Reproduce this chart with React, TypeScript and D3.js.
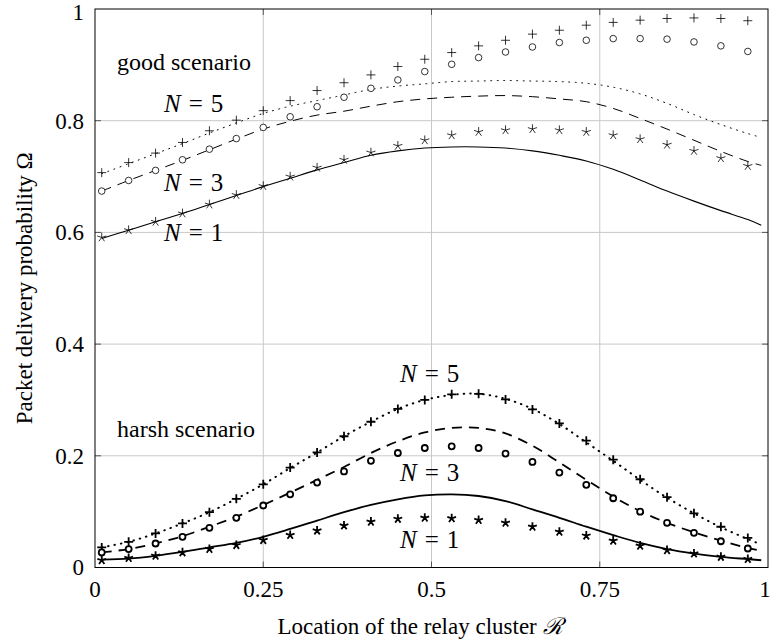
import React from 'react';
import * as d3 from 'd3';

// x positions of the simulation markers and of the analytic curves
const xMarks = [0.01, 0.05, 0.09, 0.13, 0.17, 0.21, 0.25, 0.29, 0.33, 0.37, 0.41, 0.45, 0.49, 0.53, 0.57, 0.61, 0.65, 0.69, 0.73, 0.77, 0.81, 0.85, 0.89, 0.93, 0.97];
const xLine = [0.01, 0.05, 0.09, 0.13, 0.17, 0.21, 0.25, 0.29, 0.33, 0.37, 0.41, 0.45, 0.49, 0.53, 0.57, 0.61, 0.65, 0.69, 0.73, 0.77, 0.81, 0.85, 0.89, 0.93, 0.97, 0.99];

// good scenario: simulation markers
const goodN5Sim = [0.707, 0.725, 0.742, 0.761, 0.782, 0.801, 0.818, 0.836, 0.854, 0.868, 0.882, 0.897, 0.910, 0.922, 0.934, 0.944, 0.955, 0.962, 0.971, 0.976, 0.980, 0.983, 0.984, 0.983, 0.979];
const goodN3Sim = [0.674, 0.693, 0.711, 0.730, 0.749, 0.768, 0.788, 0.807, 0.825, 0.842, 0.858, 0.873, 0.888, 0.901, 0.913, 0.923, 0.932, 0.940, 0.944, 0.947, 0.947, 0.946, 0.941, 0.934, 0.924];
const goodN1Sim = [0.591, 0.604, 0.619, 0.634, 0.650, 0.667, 0.683, 0.700, 0.716, 0.730, 0.743, 0.755, 0.765, 0.774, 0.780, 0.783, 0.785, 0.783, 0.780, 0.774, 0.767, 0.757, 0.746, 0.733, 0.719];
// good scenario: analytic curves
const goodN5Ana = [0.705, 0.723, 0.741, 0.759, 0.778, 0.796, 0.813, 0.826, 0.836, 0.846, 0.856, 0.862, 0.866, 0.870, 0.871, 0.872, 0.871, 0.870, 0.867, 0.860, 0.848, 0.831, 0.811, 0.793, 0.777, 0.770];
const goodN3Ana = [0.674, 0.693, 0.711, 0.729, 0.748, 0.767, 0.785, 0.799, 0.810, 0.817, 0.826, 0.834, 0.839, 0.842, 0.844, 0.845, 0.843, 0.839, 0.834, 0.822, 0.804, 0.785, 0.765, 0.745, 0.727, 0.720];
const goodN1Ana = [0.589, 0.604, 0.619, 0.634, 0.650, 0.666, 0.682, 0.697, 0.712, 0.725, 0.738, 0.746, 0.751, 0.753, 0.753, 0.751, 0.746, 0.738, 0.728, 0.713, 0.694, 0.674, 0.656, 0.639, 0.623, 0.613];

// harsh scenario: simulation markers
const harshN5Sim = [0.036, 0.046, 0.061, 0.079, 0.099, 0.123, 0.149, 0.179, 0.206, 0.235, 0.261, 0.284, 0.300, 0.310, 0.311, 0.301, 0.283, 0.258, 0.227, 0.193, 0.158, 0.126, 0.097, 0.073, 0.053];
const harshN3Sim = [0.027, 0.033, 0.043, 0.055, 0.071, 0.089, 0.111, 0.131, 0.152, 0.172, 0.191, 0.205, 0.214, 0.217, 0.214, 0.204, 0.189, 0.170, 0.148, 0.124, 0.100, 0.080, 0.062, 0.047, 0.034];
const harshN1Sim = [0.013, 0.017, 0.021, 0.027, 0.033, 0.040, 0.049, 0.058, 0.066, 0.075, 0.082, 0.087, 0.089, 0.088, 0.085, 0.080, 0.073, 0.064, 0.057, 0.048, 0.039, 0.031, 0.025, 0.019, 0.015];
// harsh scenario: analytic curves
const harshN5Ana = [0.036, 0.046, 0.061, 0.079, 0.099, 0.123, 0.149, 0.178, 0.206, 0.235, 0.261, 0.284, 0.300, 0.309, 0.311, 0.302, 0.284, 0.257, 0.224, 0.191, 0.157, 0.125, 0.097, 0.072, 0.051, 0.041];
const harshN3Ana = [0.027, 0.033, 0.043, 0.056, 0.073, 0.091, 0.112, 0.134, 0.157, 0.180, 0.205, 0.226, 0.242, 0.250, 0.250, 0.240, 0.218, 0.188, 0.157, 0.127, 0.101, 0.080, 0.063, 0.048, 0.035, 0.030];
const harshN1Ana = [0.014, 0.016, 0.021, 0.028, 0.036, 0.044, 0.055, 0.069, 0.084, 0.099, 0.112, 0.122, 0.129, 0.131, 0.128, 0.119, 0.104, 0.089, 0.073, 0.058, 0.044, 0.033, 0.025, 0.019, 0.015, 0.013];

const xTicks = [0, 0.25, 0.5, 0.75, 1];
const xTickLabels = ['0', '0.25', '0.5', '0.75', '1'];
const yTicks = [0, 0.2, 0.4, 0.6, 0.8, 1];
const yTickLabels = ['0', '0.2', '0.4', '0.6', '0.8', '1'];

const W = 772;
const H = 643;
const L = 95, R = 768, T = 9, B = 567.5;
const FONT = "'Liberation Serif', 'Times New Roman', serif";

export default function App() {
  const x = d3.scaleLinear().domain([0, 1]).range([L, R]);
  const y = d3.scaleLinear().domain([0, 1]).range([B, T]);
  const line = d3.line<number>()
    .x((_, i) => x(xLine[i]))
    .y((d) => y(d))
    .curve(d3.curveCatmullRom.alpha(0.5));

  const plus = (cx: number, cy: number, s: number) => `M${cx - s},${cy}h${2 * s}M${cx},${cy - s}v${2 * s}`;
  const star = (cx: number, cy: number, s: number) => {
    let p = '';
    for (let k = 0; k < 5; k++) {
      const a = -Math.PI / 2 + (k * 2 * Math.PI) / 5;
      p += `M${cx},${cy}L${cx + s * Math.cos(a)},${cy + s * Math.sin(a)}`;
    }
    return p;
  };

  const markerSet = (vals: number[], kind: string, bold: boolean, key: string) => (
    <g key={key} stroke="#000" fill="none" strokeWidth={bold ? 1.8 : 0.8}>
      {vals.map((v, i) => {
        const cx = x(xMarks[i]);
        const cy = y(v);
        if (kind === 'plus') return <path key={i} d={plus(cx, cy, 4.5)} />;
        if (kind === 'circle') return <circle key={i} cx={cx} cy={cy} r={bold ? 3 : 3.3} fill="#fff" />;
        return <path key={i} d={star(cx, cy, bold ? 4.6 : 4.8)} />;
      })}
    </g>
  );

  const nLabel = (tx: number, ty: number, n: string, key: string) => (
    <text key={key} x={tx} y={ty} fontFamily={FONT} fontSize={25} fill="#000">
      <tspan fontStyle="italic">N</tspan>
      <tspan dx={8}>=</tspan>
      <tspan dx={8}>{n}</tspan>
    </text>
  );

  return (
    <svg width={W} height={H} style={{ position: 'absolute', left: 0, top: 0, background: '#fff' }}>
      <rect x={0} y={0} width={W} height={H} fill="#fff" />
      {/* grid */}
      <g stroke="#c8c8c8" strokeWidth={1}>
        {xTicks.slice(1, -1).map((t) => (
          <line key={'gx' + t} x1={x(t)} x2={x(t)} y1={T} y2={B} />
        ))}
        {yTicks.slice(1, -1).map((t) => (
          <line key={'gy' + t} x1={L} x2={R} y1={y(t)} y2={y(t)} />
        ))}
      </g>
      {/* inner ticks */}
      <g stroke="#555" strokeWidth={1}>
        {xTicks.slice(1, -1).map((t) => (
          <g key={'tx' + t}>
            <line x1={x(t)} x2={x(t)} y1={B} y2={B - 6} />
            <line x1={x(t)} x2={x(t)} y1={T} y2={T + 6} />
          </g>
        ))}
        {yTicks.slice(1, -1).map((t) => (
          <g key={'ty' + t}>
            <line x1={L} x2={L + 6} y1={y(t)} y2={y(t)} />
            <line x1={R} x2={R - 6} y1={y(t)} y2={y(t)} />
          </g>
        ))}
      </g>

      {/* good scenario curves */}
      <path d={line(goodN5Ana) || ''} fill="none" stroke="#000" strokeWidth={1} strokeDasharray="1 5.5" strokeLinecap="round" />
      <path d={line(goodN3Ana) || ''} fill="none" stroke="#000" strokeWidth={1} strokeDasharray="10 7" />
      <path d={line(goodN1Ana) || ''} fill="none" stroke="#000" strokeWidth={1.1} />

      {/* harsh scenario curves */}
      <path d={line(harshN5Ana) || ''} fill="none" stroke="#000" strokeWidth={2} strokeDasharray="0.5 6" strokeLinecap="round" />
      <path d={line(harshN3Ana) || ''} fill="none" stroke="#000" strokeWidth={1.8} strokeDasharray="10 7" />
      <path d={line(harshN1Ana) || ''} fill="none" stroke="#000" strokeWidth={1.8} />

      {/* markers */}
      {markerSet(goodN5Sim, 'plus', false, 'g5')}
      {markerSet(goodN3Sim, 'circle', false, 'g3')}
      {markerSet(goodN1Sim, 'star', false, 'g1')}
      {markerSet(harshN5Sim, 'plus', true, 'h5')}
      {markerSet(harshN3Sim, 'circle', true, 'h3')}
      {markerSet(harshN1Sim, 'star', true, 'h1')}

      {/* frame */}
      <rect x={L} y={T} width={R - L} height={B - T} fill="none" stroke="#000" strokeWidth={1} />

      {/* tick labels */}
      <g fontFamily={FONT} fontSize={23} fill="#000">
        {xTicks.map((t, i) => (
          <text key={'xl' + t} x={i === xTicks.length - 1 ? x(t) - 3 : x(t)} y={597} textAnchor="middle">{xTickLabels[i]}</text>
        ))}
        {yTicks.map((t, i) => (
          <text key={'yl' + t} x={84} y={i === yTicks.length - 1 ? y(t) + 3 : y(t)} dy="0.34em" textAnchor="end">{yTickLabels[i]}</text>
        ))}
      </g>

      {/* axis titles */}
      <text x={420} y={634} textAnchor="middle" fontFamily={FONT} fontSize={23} fill="#000">
        Location of the relay cluster <tspan fontStyle="italic" fontFamily="'DejaVu Serif', serif">ℛ</tspan>
      </text>
      <text transform={`translate(32,${(T + B) / 2}) rotate(-90)`} textAnchor="middle" fontFamily={FONT} fontSize={23} fill="#000">
        Packet delivery probability Ω
      </text>

      {/* annotations */}
      <text x={117} y={70} fontFamily={FONT} fontSize={24} fill="#000">good scenario</text>
      <text x={117} y={437} fontFamily={FONT} fontSize={24} fill="#000">harsh scenario</text>
      {nLabel(164, 112, '5', 'ng5')}
      {nLabel(164, 191, '3', 'ng3')}
      {nLabel(164, 241, '1', 'ng1')}
      {nLabel(400, 382, '5', 'nh5')}
      {nLabel(400, 481, '3', 'nh3')}
      {nLabel(400, 548, '1', 'nh1')}
    </svg>
  );
}
